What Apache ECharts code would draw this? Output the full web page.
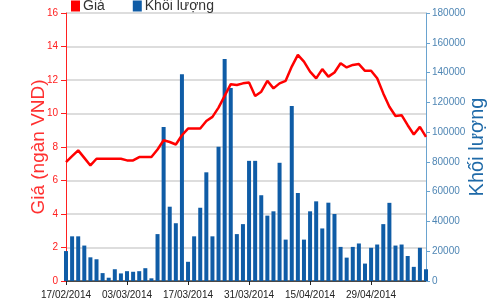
<!DOCTYPE html>
<html>
<head>
<meta charset="utf-8">
<script src="https://cdn.jsdelivr.net/npm/echarts@6/dist/echarts.min.js"></script>
<style>html,body{margin:0;padding:0;background:#fff;}#c{width:501px;height:300px;}</style>
</head>
<body>
<div id="c"></div>
<script>
var dates = [
  '17/02/2014','18/02/2014','19/02/2014','20/02/2014','21/02/2014','24/02/2014','25/02/2014','26/02/2014','27/02/2014','28/02/2014',
  '03/03/2014','04/03/2014','05/03/2014','06/03/2014','07/03/2014','10/03/2014','11/03/2014','12/03/2014','13/03/2014','14/03/2014',
  '17/03/2014','18/03/2014','19/03/2014','20/03/2014','21/03/2014','24/03/2014','25/03/2014','26/03/2014','27/03/2014','28/03/2014',
  '31/03/2014','01/04/2014','02/04/2014','03/04/2014','04/04/2014','07/04/2014','08/04/2014','10/04/2014','11/04/2014','14/04/2014',
  '15/04/2014','16/04/2014','17/04/2014','18/04/2014','21/04/2014','22/04/2014','23/04/2014','24/04/2014','25/04/2014','28/04/2014',
  '29/04/2014','02/05/2014','05/05/2014','06/05/2014','07/05/2014','08/05/2014','09/05/2014','12/05/2014','13/05/2014','14/05/2014'
];
var price = [
  7.1, 7.45, 7.8, 7.35, 6.9, 7.3, 7.3, 7.3, 7.3, 7.3,
  7.2, 7.2, 7.4, 7.4, 7.4, 7.85, 8.4, 8.3, 8.15, 8.7,
  9.1, 9.1, 9.1, 9.55, 9.8, 10.35, 11.05, 11.75, 11.7, 11.8,
  11.85, 11.05, 11.3, 11.95, 11.5, 11.8, 11.95, 12.8, 13.5, 13.1,
  12.5, 12.1, 12.65, 12.2, 12.45, 13.0, 12.75, 12.9, 12.95, 12.55,
  12.55, 12.1, 11.2, 10.4, 9.85, 9.9, 9.3, 8.75, 9.2, 8.6
];
var volume = [
  20100, 30000, 30000, 23800, 15900, 14600, 5300, 2200, 7900, 5100,
  6600, 6200, 6600, 8600, 1800, 31500, 103500, 49900, 38800, 138800,
  12900, 30000, 49200, 73000, 30000, 90200, 149100, 129700, 31500, 38200,
  80700, 80700, 57600, 43900, 46800, 79400, 27800, 117600, 59100, 27800,
  46800, 53500, 35300, 52600, 45000, 22900, 15700, 22900, 25200, 11700,
  22300, 24500, 38200, 52500, 23800, 24500, 16800, 9500, 22300, 7900
];
var priceTicks = { min: 0, max: 16, interval: 2 };
var volumeTicks = { min: 0, max: 180000, interval: 20000 };

var font = "'Liberation Sans',Arial,sans-serif";

var chart = echarts.init(document.getElementById('c'), null, { renderer: 'canvas' });
chart.setOption({
  animation: false,
  backgroundColor: '#ffffff',
  legend: {
    left: 66, top: -6,
    icon: 'rect',
    itemWidth: 9, itemHeight: 11,
    itemGap: 28,
    textStyle: { fontFamily: font, fontSize: 14, color: '#333333', padding: [0, 0, 0, -2] },
    data: ['Giá', 'Khối lượng']
  },
  grid: { left: 66, right: 75, top: 13, bottom: 15, containLabel: false },
  xAxis: [
    {
      type: 'category',
      data: dates,
      boundaryGap: false,
      axisLine: { lineStyle: { color: '#222222', width: 1 } },
      axisTick: { show: true, interval: 9, length: 4, lineStyle: { color: '#222222' } },
      axisLabel: { interval: 9, margin: 9, fontFamily: font, fontSize: 10, color: '#222222' },
      splitLine: { show: false }
    },
    {
      type: 'category',
      data: dates,
      position: 'top',
      boundaryGap: false,
      axisLine: { show: true, lineStyle: { color: '#555555', width: 1.5 } },
      axisTick: { show: false },
      axisLabel: { show: false },
      splitLine: { show: false }
    }
  ],
  yAxis: [
    {
      type: 'value',
      min: priceTicks.min, max: priceTicks.max, interval: priceTicks.interval,
      position: 'left',
      name: 'Giá (ngàn VND)',
      nameLocation: 'middle',
      nameGap: 18,
      nameMoveOverlap: false,
      nameTextStyle: { fontFamily: font, fontSize: 19, color: '#ff3030' },
      axisLine: { show: true, lineStyle: { color: '#ff2020', width: 1 } },
      axisTick: { show: true, length: 5, lineStyle: { color: '#ff2020' } },
      axisLabel: { margin: 8, fontFamily: font, fontSize: 10, color: '#ff2020' },
      splitLine: { show: true, lineStyle: { width: 1.5, color: '#d2d2d2' } }
    },
    {
      type: 'value',
      min: volumeTicks.min, max: volumeTicks.max, interval: volumeTicks.interval,
      position: 'right',
      name: 'Khối lượng',
      nameLocation: 'middle',
      nameGap: 41,
      nameMoveOverlap: false,
      nameRotate: 90,
      nameTextStyle: { fontFamily: font, fontSize: 20, color: '#1f6aa8' },
      axisLine: { show: true, lineStyle: { color: '#6aa3cf', width: 1 } },
      axisTick: { show: true, length: 4, lineStyle: { color: '#6aa3cf' } },
      axisLabel: {
        margin: 6, fontFamily: font, fontSize: 10, color: '#4f86b4',
        formatter: function (v) { return String(v); }
      },
      splitLine: { show: false }
    }
  ],
  series: [
    {
      name: 'Khối lượng',
      type: 'bar',
      yAxisIndex: 1,
      data: volume,
      barWidth: 4,
      itemStyle: { color: '#0f5ca6' }
    },
    {
      name: 'Giá',
      type: 'line',
      yAxisIndex: 0,
      data: price,
      symbol: 'none',
      smooth: false,
      lineStyle: { color: '#ff0000', width: 2.5 },
      itemStyle: { color: '#ff0000' },
      z: 5
    }
  ]
});
</script>
</body>
</html>
